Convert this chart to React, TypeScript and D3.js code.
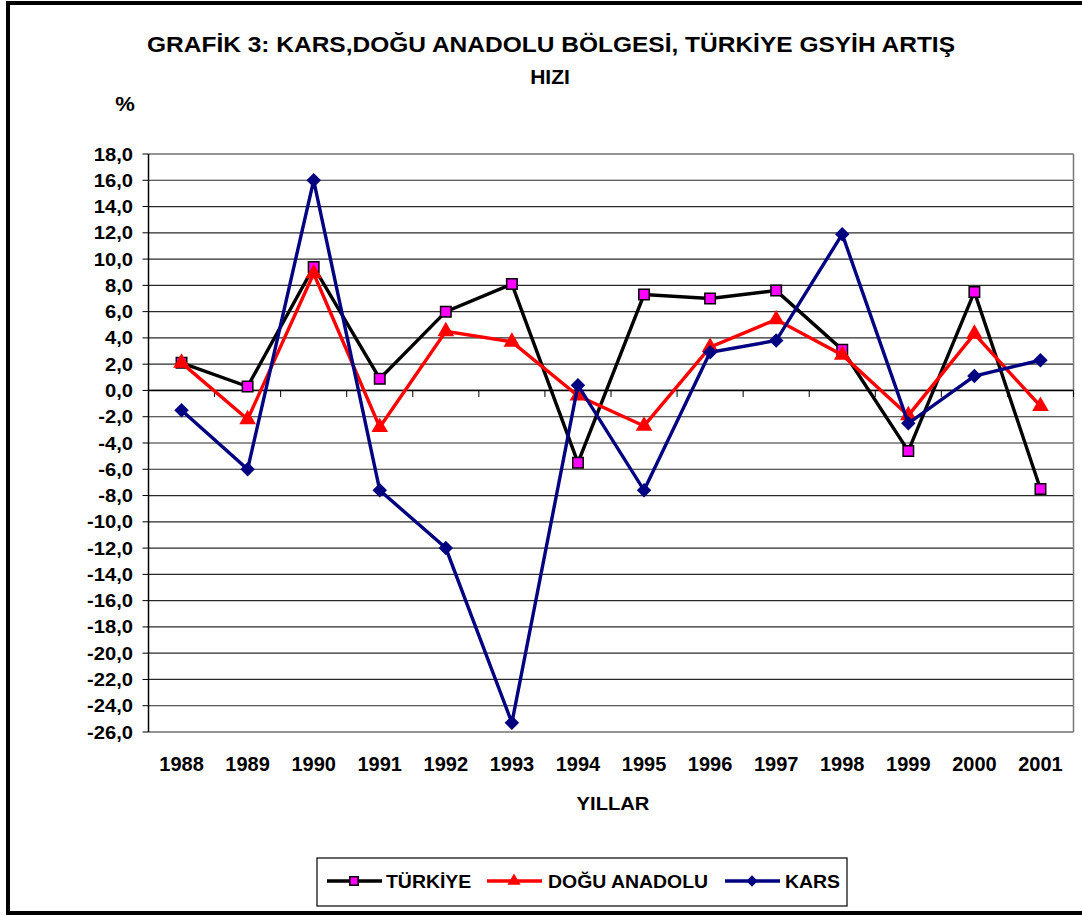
import React from 'react';
import * as d3 from 'd3';

// years on the x axis
const years = ['1988', '1989', '1990', '1991', '1992', '1993', '1994', '1995', '1996', '1997', '1998', '1999', '2000', '2001'];

// growth rates, %
const turkiye = [2.1, 0.3, 9.4, 0.9, 6.0, 8.1, -5.5, 7.3, 7.0, 7.6, 3.1, -4.6, 7.5, -7.5];
const doguAnadolu = [2.1, -2.2, 8.9, -2.8, 4.5, 3.7, -0.4, -2.7, 3.3, 5.4, 2.7, -1.9, 4.3, -1.2];
const kars = [-1.5, -6.0, 16.0, -7.6, -12.0, -25.3, 0.4, -7.6, 2.9, 3.8, 11.9, -2.5, 1.1, 2.3];

const yTicks = d3.range(-26, 19, 2);

const W = 1082;
const H = 916;
const FONT = '"Liberation Sans", Arial, sans-serif';

const App = () => {
  const left = 148.5;
  const right = 1073.5;
  const top = 154;
  const bottom = 732;

  const x = d3.scaleBand<string>().domain(years).range([left, right]).padding(0);
  const y = d3.scaleLinear().domain([-26, 18]).range([bottom, top]);
  const cx = (i: number) => (x(years[i]) as number) + x.bandwidth() / 2;

  const line = d3.line<number>()
    .x((_, i) => cx(i))
    .y(d => y(d));

  const square = d3.symbol().type(d3.symbolSquare);
  const triangle = d3.symbol().type(d3.symbolTriangle);
  const diamond = d3.symbol().type(d3.symbolSquare);

  const series = [
    { name: 'TÜRKİYE', values: turkiye, color: '#000000', marker: square.size(110)(), legendMarker: square.size(70)(), fill: '#ff00ff', stroke: '#000', rot: 0 },
    { name: 'DOĞU ANADOLU', values: doguAnadolu, color: '#ff0000', marker: triangle.size(120)(), legendMarker: triangle.size(75)(), fill: '#ff0000', stroke: 'none', rot: 0 },
    { name: 'KARS', values: kars, color: '#000080', marker: diamond.size(105)(), legendMarker: diamond.size(64)(), fill: '#000080', stroke: 'none', rot: 45 },
  ];

  const legendLine = [327, 487, 725];
  const legendText = [386, 548, 785];

  const stretch = (tx: number, ty: number, s = 1.12) => `translate(${tx},${ty}) scale(${s},1)`;

  return (
    <svg width={W} height={H} style={{ position: 'absolute', left: 0, top: 0, background: '#fff' }} fontFamily={FONT}>
      {/* outer frame */}
      <rect x={8} y={3} width={1100} height={910} fill="none" stroke="#000" strokeWidth={4} />

      {/* title */}
      <text x={551} y={52} textAnchor="middle" fontWeight="bold" fontSize={22} textLength={808} lengthAdjust="spacingAndGlyphs">
        GRAFİK 3: KARS,DOĞU ANADOLU BÖLGESİ, TÜRKİYE GSYİH ARTIŞ
      </text>
      <text transform={stretch(550, 84, 1.0)} textAnchor="middle" fontWeight="bold" fontSize={21}>HIZI</text>
      <text transform={stretch(125, 111, 1.1)} textAnchor="middle" fontWeight="bold" fontSize={20}>%</text>

      {/* grid */}
      {yTicks.map(t => (
        <line key={t} x1={left} x2={right} y1={y(t)} y2={y(t)} stroke="#2a2a2a" strokeWidth={1.2} />
      ))}
      <line x1={right} x2={right} y1={top} y2={bottom} stroke="#777" strokeWidth={1.5} />

      {/* y axis */}
      <line x1={left} x2={left} y1={top} y2={bottom} stroke="#000" strokeWidth={1.5} />
      {yTicks.map(t => (
        <g key={'yt' + t}>
          <line x1={left - 6} x2={left} y1={y(t)} y2={y(t)} stroke="#000" strokeWidth={1} />
          <text transform={stretch(133, y(t) + 6.5)} textAnchor="end" fontWeight="bold" fontSize={18}>
            {t.toFixed(1).replace('.', ',')}
          </text>
        </g>
      ))}

      {/* x axis at zero */}
      <line x1={left} x2={right} y1={y(0)} y2={y(0)} stroke="#000" strokeWidth={1.5} />
      {years.map(yr => (
        <line key={'xt' + yr} x1={(x(yr) as number) + x.bandwidth()} x2={(x(yr) as number) + x.bandwidth()} y1={y(0)} y2={y(0) + 6.5} stroke="#000" strokeWidth={1} />
      ))}
      {years.map((yr, i) => (
        <text key={'xl' + yr} transform={stretch(cx(i), 771, 1.0)} textAnchor="middle" fontWeight="bold" fontSize={20}>{yr}</text>
      ))}
      <text transform={stretch(613, 810)} textAnchor="middle" fontWeight="bold" fontSize={18}>YILLAR</text>

      {/* series */}
      {series.map(s => (
        <g key={s.name}>
          <path d={line(s.values) as string} fill="none" stroke={s.color} strokeWidth={3.4} strokeLinejoin="miter" />
          {s.values.map((v, i) => (
            <path key={i} d={s.marker as string} transform={`translate(${cx(i)},${y(v)}) rotate(${s.rot})`} fill={s.fill} stroke={s.stroke} strokeWidth={1.5} />
          ))}
        </g>
      ))}

      {/* legend */}
      <rect x={317} y={858} width={530} height={48} fill="#fff" stroke="#000" strokeWidth={1.2} />
      {series.map((s, k) => {
        const x0 = legendLine[k];
        return (
          <g key={'lg' + s.name}>
            <line x1={x0} x2={x0 + 55} y1={881} y2={881} stroke={s.color} strokeWidth={3.4} />
            <path d={s.legendMarker as string} transform={`translate(${x0 + 27},${881}) rotate(${s.rot})`} fill={s.fill} stroke={s.stroke} strokeWidth={1.5} />
            <text transform={stretch(legendText[k], 887.5, 1.08)} fontWeight="bold" fontSize={18}>{s.name}</text>
          </g>
        );
      })}
    </svg>
  );
};

export default App;
